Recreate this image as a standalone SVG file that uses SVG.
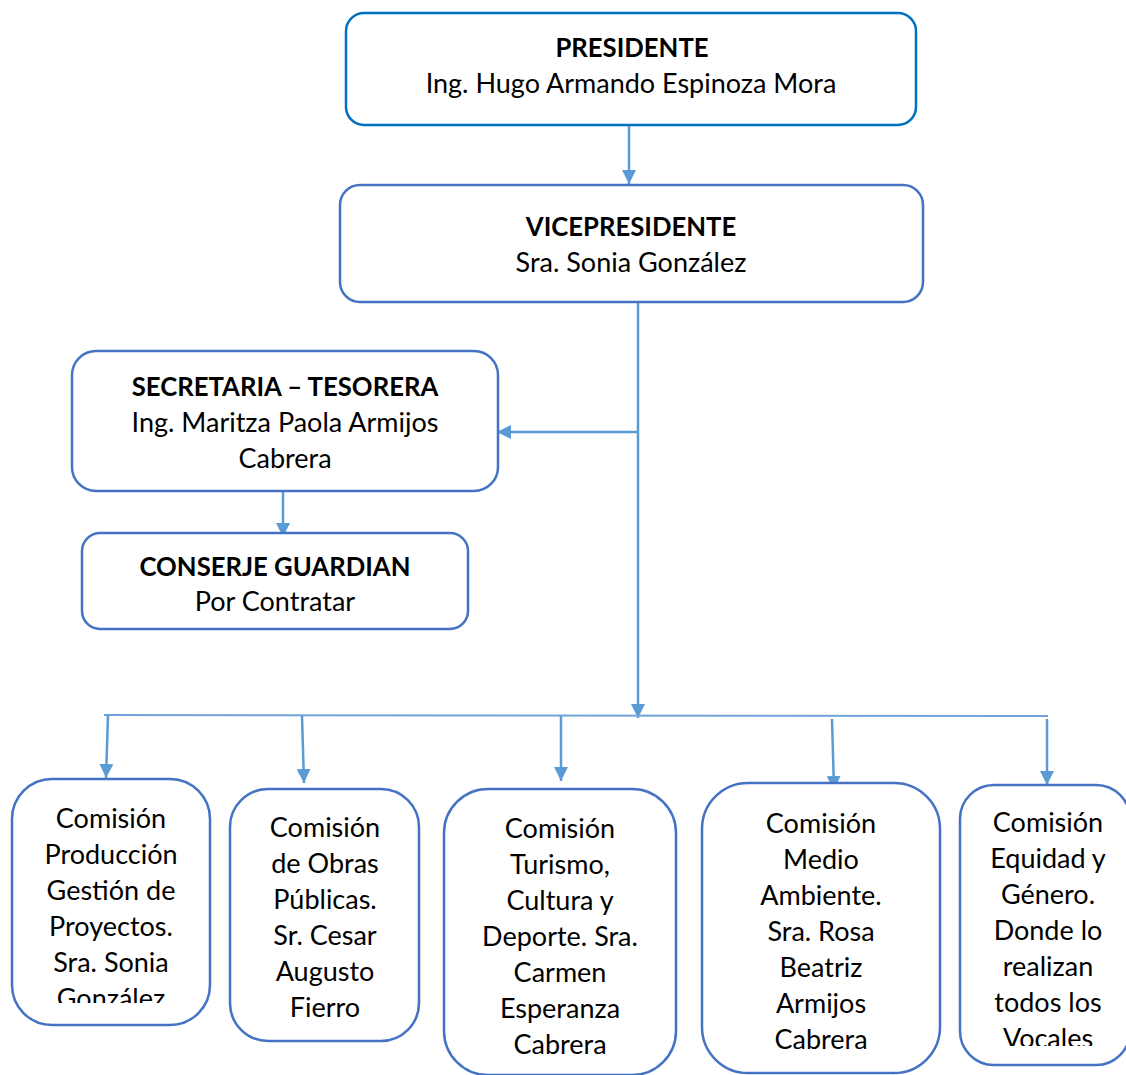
<svg xmlns="http://www.w3.org/2000/svg" width="1126" height="1075" viewBox="0 0 1126 1075">
  <style>
    .box { fill: #ffffff; stroke: #4472C4; stroke-width: 2.5; }
    .box-top { fill: #ffffff; stroke: #0070C0; stroke-width: 2.5; }
    .txt { font-family: Lato, "Open Sans", "Liberation Sans", sans-serif; font-size: 27px; fill: #000000; text-anchor: middle; }
    .b { font-weight: bold; font-size: 25.7px; }
    .conn { fill: none; stroke: #5B9BD5; stroke-width: 2.5; }
    .bus { fill: none; stroke: #6FA3DA; stroke-width: 2; }
  </style>
  <defs>
    <marker id="arrow" viewBox="0 0 14 14" refX="14" refY="7" markerWidth="14" markerHeight="14" markerUnits="userSpaceOnUse" orient="auto">
      <path d="M0,0 L14,7 L0,14 Z" fill="#5B9BD5"/>
    </marker>
    <clipPath id="clip-prod"><rect x="0" y="779" width="230" height="224"/></clipPath>
    <clipPath id="clip-equidad"><rect x="950" y="785" width="176" height="261"/></clipPath>
  </defs>

  <rect width="1126" height="1075" fill="#ffffff"/>

  <!-- connectors -->
  <g id="connectors">
    <line class="conn" x1="629" y1="125" x2="629" y2="184" marker-end="url(#arrow)"/>
    <line class="conn" x1="638" y1="302" x2="638" y2="718" marker-end="url(#arrow)"/>
    <line class="conn" x1="638" y1="432" x2="497" y2="432" marker-end="url(#arrow)"/>
    <line class="conn" x1="283" y1="491" x2="283" y2="537" marker-end="url(#arrow)"/>
    <line class="bus" x1="104" y1="715" x2="1048" y2="716"/>
    <line class="conn" x1="108" y1="715" x2="106" y2="778" marker-end="url(#arrow)"/>
    <line class="conn" x1="302" y1="716" x2="304" y2="783" marker-end="url(#arrow)"/>
    <line class="conn" x1="561" y1="716" x2="561" y2="781" marker-end="url(#arrow)"/>
    <line class="conn" x1="832" y1="719" x2="834" y2="790" marker-end="url(#arrow)"/>
    <line class="conn" x1="1047" y1="719" x2="1047" y2="785" marker-end="url(#arrow)"/>
  </g>

  <!-- top of the organisation -->
  <g id="presidente">
    <rect class="box-top" x="346" y="13" width="570" height="112" rx="18"/>
    <text class="txt b" x="632" y="57">PRESIDENTE</text>
    <text class="txt" x="631" y="93">Ing. Hugo Armando Espinoza Mora</text>
  </g>

  <g id="vicepresidente">
    <rect class="box" x="340" y="185" width="583" height="117" rx="20"/>
    <text class="txt b" x="631" y="236">VICEPRESIDENTE</text>
    <text class="txt" x="631" y="272">Sra. Sonia González</text>
  </g>

  <g id="secretaria">
    <rect class="box" x="72" y="351" width="426" height="140" rx="24"/>
    <text class="txt b" x="285" y="396">SECRETARIA – TESORERA</text>
    <text class="txt" x="285" y="432">Ing. Maritza Paola Armijos</text>
    <text class="txt" x="285" y="468">Cabrera</text>
  </g>

  <g id="conserje">
    <rect class="box" x="82" y="533" width="386" height="96" rx="18"/>
    <text class="txt b" x="275" y="576">CONSERJE GUARDIAN</text>
    <text class="txt" x="275" y="611">Por Contratar</text>
  </g>

  <!-- commissions -->
  <g id="comision-produccion">
    <rect class="box" x="12" y="779" width="198" height="246" rx="40"/>
    <g clip-path="url(#clip-prod)">
      <text class="txt" x="111" y="828">Comisión</text>
      <text class="txt" x="111" y="864">Producción</text>
      <text class="txt" x="111" y="900">Gestión de</text>
      <text class="txt" x="111" y="936">Proyectos.</text>
      <text class="txt" x="111" y="972">Sra. Sonia</text>
      <text class="txt" x="111" y="1008">González</text>
    </g>
  </g>

  <g id="comision-obras">
    <rect class="box" x="230" y="789" width="189" height="252" rx="38"/>
    <text class="txt" x="325" y="837">Comisión</text>
    <text class="txt" x="325" y="873">de Obras</text>
    <text class="txt" x="325" y="909">Públicas.</text>
    <text class="txt" x="325" y="945">Sr. Cesar</text>
    <text class="txt" x="325" y="981">Augusto</text>
    <text class="txt" x="325" y="1017">Fierro</text>
  </g>

  <g id="comision-turismo">
    <rect class="box" x="444" y="789" width="232" height="286" rx="44"/>
    <text class="txt" x="560" y="838">Comisión</text>
    <text class="txt" x="560" y="874">Turismo,</text>
    <text class="txt" x="560" y="910">Cultura y</text>
    <text class="txt" x="560" y="946">Deporte. Sra.</text>
    <text class="txt" x="560" y="982">Carmen</text>
    <text class="txt" x="560" y="1018">Esperanza</text>
    <text class="txt" x="560" y="1054">Cabrera</text>
  </g>

  <g id="comision-ambiente">
    <rect class="box" x="702" y="783" width="238" height="290" rx="46"/>
    <text class="txt" x="821" y="833">Comisión</text>
    <text class="txt" x="821" y="869">Medio</text>
    <text class="txt" x="821" y="905">Ambiente.</text>
    <text class="txt" x="821" y="941">Sra. Rosa</text>
    <text class="txt" x="821" y="977">Beatriz</text>
    <text class="txt" x="821" y="1013">Armijos</text>
    <text class="txt" x="821" y="1049">Cabrera</text>
  </g>

  <g id="comision-equidad">
    <rect class="box" x="960" y="785" width="170" height="280" rx="34"/>
    <g clip-path="url(#clip-equidad)">
      <text class="txt" x="1048" y="832">Comisión</text>
      <text class="txt" x="1048" y="868">Equidad y</text>
      <text class="txt" x="1048" y="904">Género.</text>
      <text class="txt" x="1048" y="940">Donde lo</text>
      <text class="txt" x="1048" y="976">realizan</text>
      <text class="txt" x="1048" y="1012">todos los</text>
      <text class="txt" x="1048" y="1048">Vocales</text>
    </g>
  </g>
</svg>
